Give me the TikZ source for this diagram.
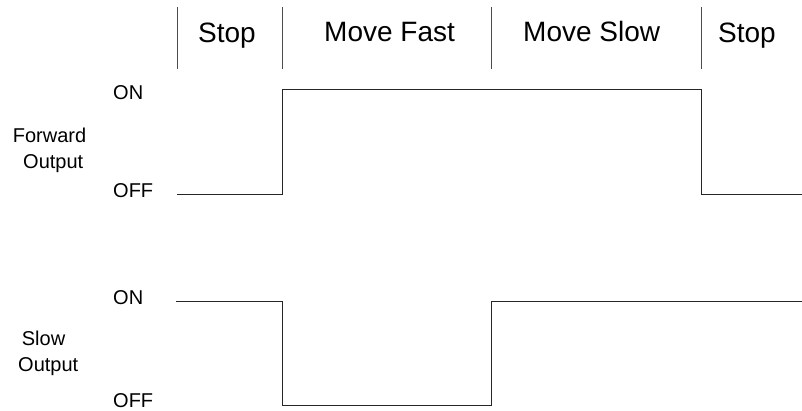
\documentclass[tikz,border=0pt]{standalone}
\usepackage{fontspec}
\setmainfont{Liberation Sans}
\begin{document}
\begin{tikzpicture}[x=1pt,y=-1pt,
  big/.style={inner sep=0pt,anchor=base west,font=\fontsize{28}{32}\selectfont},
  small/.style={inner sep=0pt,anchor=base west,font=\fontsize{20}{24}\selectfont},
  divider/.style={line width=1pt,draw=black!70},
  wave/.style={line width=1pt,draw=black!85}]
\useasboundingbox (0,0) rectangle (802,411);
% dividers
\coordinate (d1t) at (177,7); \coordinate (d1b) at (177,69);
\coordinate (d2t) at (282,7); \coordinate (d2b) at (282,69);
\coordinate (d3t) at (491,7); \coordinate (d3b) at (491,69);
\coordinate (d4t) at (701,7); \coordinate (d4b) at (701,69);
\draw[divider] (d1t) -- (d1b);
\draw[divider] (d2t) -- (d2b);
\draw[divider] (d3t) -- (d3b);
\draw[divider] (d4t) -- (d4b);
% phase labels
\node[big] (stop1) at (198,43) {Stop};
\node[big] (fast) at (324,41.7) {Move Fast};
\node[big] (slow) at (523,41.7) {Move Slow};
\node[big] (stop2) at (718,43) {Stop};
% left labels
\node[small] (on1) at (113,100) {ON};
\node[small] (off1) at (113,197.3) {OFF};
\node[small] (fw) at (12.7,142.7) {Forward};
\node[small] (fwo) at (23,168.3) {Output};
\node[small] (on2) at (113,304) {ON};
\node[small] (off2) at (113,407.3) {OFF};
\node[small] (sl) at (21.7,345) {Slow};
\node[small] (slo) at (18,371.7) {Output};
% forward waveform
\coordinate (f0) at (177,195);
\coordinate (f1) at (282,195);
\coordinate (f2) at (282,90);
\coordinate (f3) at (701,90);
\coordinate (f4) at (701,195);
\coordinate (f5) at (802,195);
\draw[wave] (f0) -- (f1) -- (f2) -- (f3) -- (f4) -- (f5);
% slow waveform
\coordinate (s0) at (176,301);
\coordinate (s1) at (282,301);
\coordinate (s2) at (282,405);
\coordinate (s3) at (491,405);
\coordinate (s4) at (491,301);
\coordinate (s5) at (802,301);
\draw[wave] (s0) -- (s1) -- (s2) -- (s3) -- (s4) -- (s5);
\end{tikzpicture}
\end{document}
